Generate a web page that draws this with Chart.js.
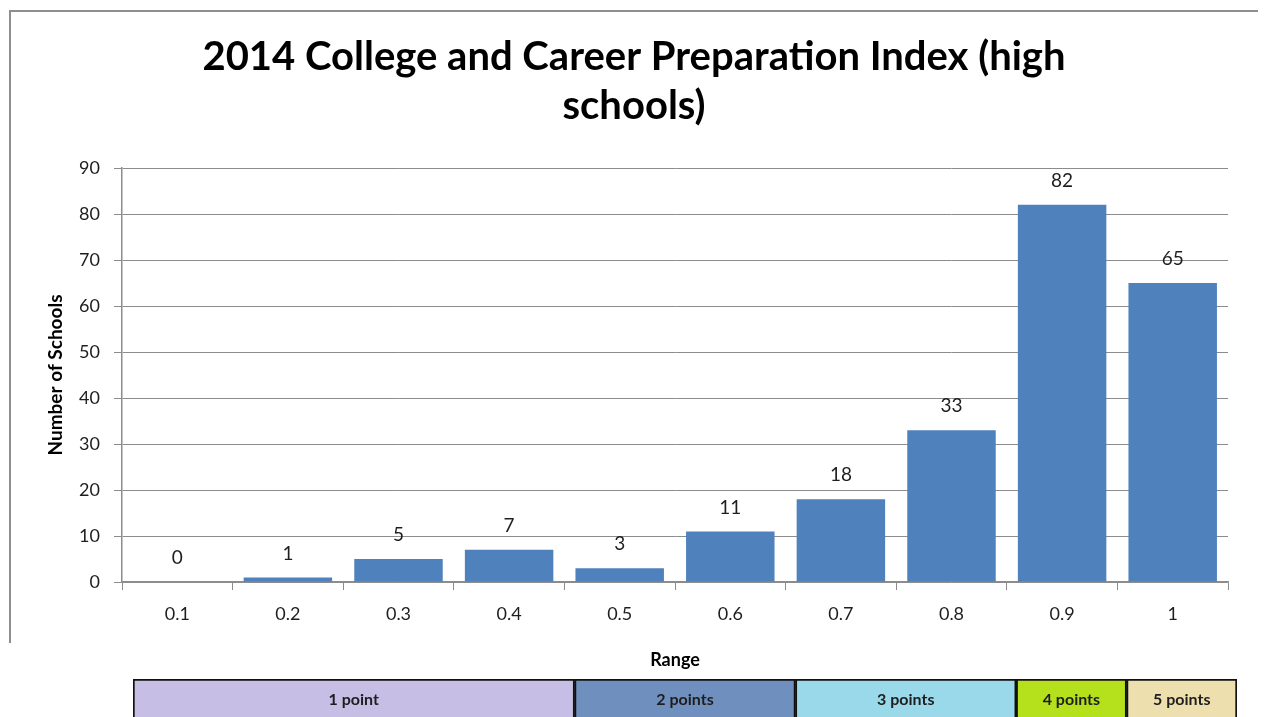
<!DOCTYPE html>
<html>
<head>
<meta charset="utf-8">
<script src="https://cdn.jsdelivr.net/npm/chart.js@4.4.1/dist/chart.umd.min.js"></script>
<style>
  html, body { margin: 0; padding: 0; background: #ffffff; }
  body { width: 1266px; height: 717px; overflow: hidden; position: relative; }
  #frame { position: absolute; left: 9px; top: 10px; width: 1249px; height: 633px;
           border-top: 2px solid #8e8e8e; border-left: 2px solid #8e8e8e; box-sizing: border-box; }
  #mainWrap { position: absolute; left: 0; top: 0; width: 1266px; height: 717px; }
  #bandWrap { position: absolute; left: 133px; top: 679px; width: 1104px; height: 42px; }
</style>
</head>
<body>
<div id="frame"></div>
<div id="mainWrap"><canvas id="main"></canvas></div>
<div id="bandWrap"><canvas id="band"></canvas></div>
<script>
// ---- data ----
const titleLines = ['2014 College and Career Preparation Index (high', 'schools)'];
const categories = ['0.1', '0.2', '0.3', '0.4', '0.5', '0.6', '0.7', '0.8', '0.9', '1'];
const schoolCounts = [0, 1, 5, 7, 3, 11, 18, 33, 82, 65];
const yTicksMax = 90;
const yTickStep = 10;
const xAxisTitle = 'Range';
const yAxisTitle = 'Number of Schools';
const bandLabels = ['1 point', '2 points', '3 points', '4 points', '5 points'];
const bandSpans = [4, 2, 2, 1, 1];   // number of range categories covered
const bandColors = ['#c6bee4', '#6f90bf', '#9ad9ea', '#b4e11c', '#eee0ae'];

const FONT = 'Lato, "Open Sans", "DejaVu Sans", sans-serif';
const GRID = '#8c8c8c';
const TEXT = '#1e1e1e';

const valueLabels = {
  id: 'valueLabels',
  afterDatasetsDraw(chart) {
    const ctx = chart.ctx;
    const meta = chart.getDatasetMeta(0);
    ctx.save();
    ctx.font = '19px ' + FONT;
    ctx.fillStyle = TEXT;
    ctx.textAlign = 'center';
    ctx.textBaseline = 'middle';
    meta.data.forEach((bar, i) => {
      ctx.fillText(String(chart.data.datasets[0].data[i]), bar.x, bar.y - 24);
    });
    ctx.restore();
  }
};

new Chart(document.getElementById('main'), {
  type: 'bar',
  data: {
    labels: categories,
    datasets: [{
      data: schoolCounts,
      backgroundColor: '#4f81bd',
      borderWidth: 0,
      barPercentage: 0.8,
      categoryPercentage: 1.0
    }]
  },
  options: {
    responsive: true,
    maintainAspectRatio: false,
    animation: false,
    events: [],
    layout: { padding: { left: 40, right: 38, top: 0, bottom: 45 } },
    plugins: {
      legend: { display: false },
      tooltip: { enabled: false },
      title: {
        display: true,
        text: titleLines,
        color: '#000',
        font: { family: FONT, size: 40, weight: 'bold', lineHeight: '49px' },
        padding: { top: 33, bottom: 37 }
      }
    },
    scales: {
      x: {
        grid: { offset: true, drawOnChartArea: false, drawTicks: true, tickLength: 8, color: GRID },
        border: { display: true, color: GRID, width: 1.5 },
        ticks: { color: TEXT, font: { family: FONT, size: 18 }, padding: 13, maxRotation: 0 },
        title: { display: true, text: xAxisTitle, color: '#000',
                 font: { family: FONT, size: 18, weight: 'bold', lineHeight: 1.2 },
                 padding: { top: 0, bottom: 1 } },
        afterFit(scale) { scale.height = 90; }
      },
      y: {
        min: 0,
        max: yTicksMax,
        ticks: { stepSize: yTickStep, color: TEXT, font: { family: FONT, size: 18 }, padding: 14 },
        grid: { color: GRID, lineWidth: 1, tickLength: 8, drawTicks: true },
        border: { display: true, color: GRID, width: 1.5 },
        title: { display: true, text: yAxisTitle, color: '#000',
                 font: { family: FONT, size: 19, weight: 'bold', lineHeight: 1.2 },
                 padding: { top: 4, bottom: 0 } },
        afterFit(scale) { scale.width = 82; }
      }
    }
  },
  plugins: [valueLabels]
});

// ---- point band under the axis ----
const bandText = {
  id: 'bandText',
  afterDatasetsDraw(chart) {
    const ctx = chart.ctx;
    ctx.save();
    ctx.font = 'bold 16px ' + FONT;
    ctx.fillStyle = TEXT;
    ctx.textAlign = 'center';
    ctx.textBaseline = 'middle';
    chart.data.datasets.forEach((ds, i) => {
      const el = chart.getDatasetMeta(i).data[0];
      const cx = (el.x + el.base) / 2;
      ctx.fillText(ds.label, cx, el.y);
    });
    ctx.restore();
  }
};

new Chart(document.getElementById('band'), {
  type: 'bar',
  data: {
    labels: ['band'],
    datasets: bandLabels.map((lab, i) => ({
      label: lab,
      data: [bandSpans[i]],
      backgroundColor: bandColors[i],
      borderColor: '#111',
      borderWidth: 2,
      borderSkipped: false,
      barPercentage: 1,
      categoryPercentage: 1
    }))
  },
  options: {
    indexAxis: 'y',
    responsive: true,
    maintainAspectRatio: false,
    animation: false,
    events: [],
    layout: { padding: 0 },
    plugins: { legend: { display: false }, tooltip: { enabled: false }, title: { display: false } },
    scales: {
      x: { stacked: true, min: 0, max: bandSpans.reduce((a, b) => a + b, 0), display: false },
      y: { stacked: true, display: false }
    }
  },
  plugins: [bandText]
});
</script>
</body>
</html>
